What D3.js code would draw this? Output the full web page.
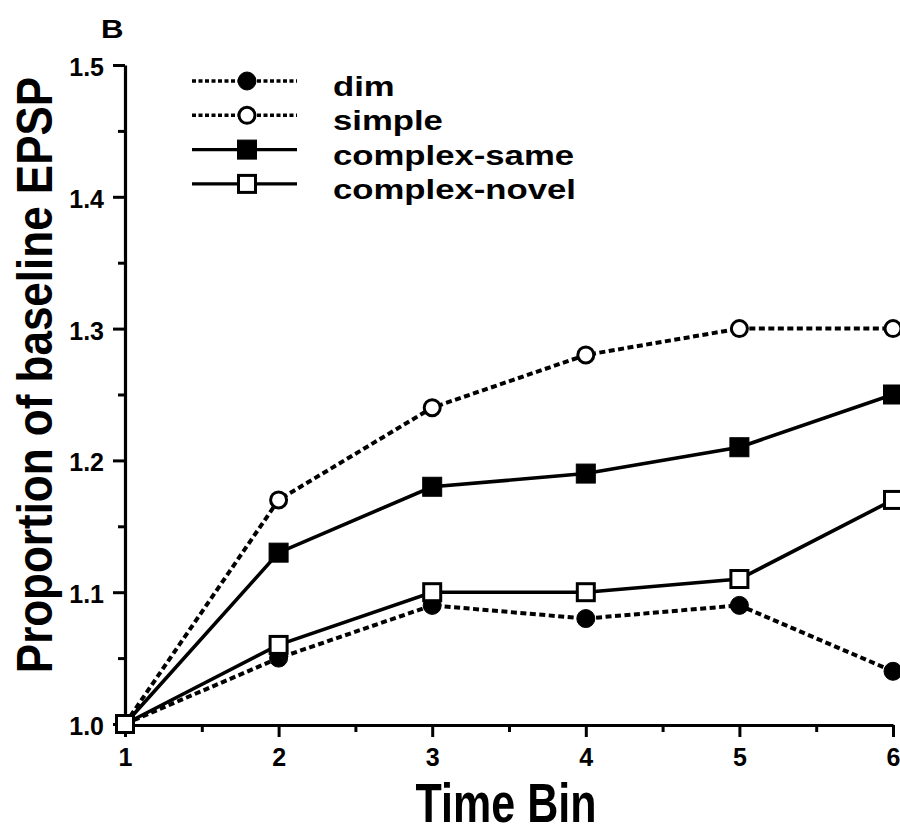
<!DOCTYPE html>
<html>
<head>
<meta charset="utf-8">
<script src="https://cdn.jsdelivr.net/npm/d3@7"></script>
<style>
  html, body { margin: 0; padding: 0; background: #fff; }
  svg { display: block; }
  text { font-family: "Liberation Sans", Arial, Helvetica, sans-serif; fill: #000; }
</style>
</head>
<body>
<svg id="chart" width="900" height="834"></svg>
<script>
// Time bins on the x axis
const bins = [1, 2, 3, 4, 5, 6];

// Proportion of baseline EPSP for each condition
const dimValues = [1.00, 1.05, 1.09, 1.08, 1.09, 1.04];
const simpleValues = [1.00, 1.17, 1.24, 1.28, 1.30, 1.30];
const complexSameValues = [1.00, 1.13, 1.18, 1.19, 1.21, 1.25];
const complexNovelValues = [1.00, 1.06, 1.10, 1.10, 1.11, 1.17];

const seriesNames = ["dim", "simple", "complex-same", "complex-novel"];

// Axis ticks
const yTicks = [1.0, 1.1, 1.2, 1.3, 1.4, 1.5];
const yMinorTicks = [1.05, 1.15, 1.25, 1.35, 1.45];
const xTicks = [1, 2, 3, 4, 5, 6];
const xMinorTicks = [1.5, 2.5, 3.5, 4.5, 5.5];

const series = [
  { name: seriesNames[0], values: dimValues, dashed: true, shape: "circle", filled: true },
  { name: seriesNames[1], values: simpleValues, dashed: true, shape: "circle", filled: false },
  { name: seriesNames[2], values: complexSameValues, dashed: false, shape: "square", filled: true },
  { name: seriesNames[3], values: complexNovelValues, dashed: false, shape: "square", filled: false }
];

const svg = d3.select("#chart");

const x = d3.scaleLinear().domain([1, 6]).range([125, 893]);
const y = d3.scaleLinear().domain([1.0, 1.5]).range([724, 65]);

// Panel letter
svg.append("text")
  .attr("transform", "translate(101,38) scale(1.2,1)")
  .style("font-size", "26px").attr("font-weight", "bold")
  .text("B");

// Y axis with major and minor ticks
const yAxis = svg.append("g").attr("transform", "translate(125,0)")
  .call(d3.axisLeft(y).tickValues(yTicks).tickFormat(d3.format(".1f"))
    .tickSize(12).tickSizeOuter(0).tickPadding(9));
svg.append("g").attr("transform", "translate(125,0)")
  .call(d3.axisLeft(y).tickValues(yMinorTicks).tickFormat("")
    .tickSize(7).tickSizeOuter(0))
  .select(".domain").remove();

// X axis with major and minor ticks
const xAxis = svg.append("g").attr("transform", "translate(0,725)")
  .call(d3.axisBottom(x).tickValues(xTicks).tickFormat(d3.format("d"))
    .tickSize(12).tickSizeOuter(0).tickPadding(11));
svg.append("g").attr("transform", "translate(0,725)")
  .call(d3.axisBottom(x).tickValues(xMinorTicks).tickFormat("")
    .tickSize(7).tickSizeOuter(0))
  .select(".domain").remove();

svg.selectAll(".domain").attr("stroke", "#000").attr("stroke-width", 3.2);
svg.selectAll(".tick line").attr("stroke", "#000").attr("stroke-width", 3);
svg.selectAll(".tick text")
  .style("font-family", "\"Liberation Sans\", Arial, sans-serif")
  .style("font-size", "25px").attr("font-weight", "bold").attr("fill", "#000");
yAxis.selectAll(".tick text").attr("dy", "0.42em");

// Axis titles
svg.append("text")
  .attr("transform", "translate(52,375) rotate(-90) scale(1,1.15)")
  .attr("text-anchor", "middle")
  .style("font-size", "44px").attr("font-weight", "bold")
  .text("Proportion of baseline EPSP");

svg.append("text")
  .attr("transform", "translate(506,822) scale(1,1.3)")
  .attr("text-anchor", "middle")
  .style("font-size", "43px").attr("font-weight", "bold")
  .text("Time Bin");

// Marker drawing helper
function drawMarker(g, shape, filled, cx, cy) {
  if (shape === "circle") {
    g.append("circle")
      .attr("cx", cx).attr("cy", cy).attr("r", filled ? 9 : 8)
      .attr("fill", filled ? "#000" : "#fff")
      .attr("stroke", "#000").attr("stroke-width", filled ? 1 : 3);
  } else {
    const s = filled ? 19 : 17;
    g.append("rect")
      .attr("x", cx - s / 2).attr("y", cy - s / 2)
      .attr("width", s).attr("height", s)
      .attr("fill", filled ? "#000" : "#fff")
      .attr("stroke", "#000").attr("stroke-width", filled ? 1 : 3);
  }
}

const line = d3.line().x((d, i) => x(bins[i])).y(d => y(d));

// Lines
const linesG = svg.append("g");
series.forEach(s => {
  linesG.append("path")
    .datum(s.values)
    .attr("d", line)
    .attr("fill", "none")
    .attr("stroke", "#000")
    .attr("stroke-width", s.dashed ? 4 : 3.6)
    .attr("stroke-dasharray", s.dashed ? "6,3.5" : null);
});

// Markers
const markersG = svg.append("g");
series.forEach(s => {
  s.values.forEach((v, i) => drawMarker(markersG, s.shape, s.filled, x(bins[i]), y(v)));
});

// Legend
const legend = svg.append("g");
series.forEach((s, i) => {
  const ry = 81 + i * 34.3;
  legend.append("line")
    .attr("x1", 192).attr("x2", 297).attr("y1", ry).attr("y2", ry)
    .attr("stroke", "#000").attr("stroke-width", 3.4)
    .attr("stroke-dasharray", s.dashed ? "4,2.5" : null);
  drawMarker(legend, s.shape, s.filled, 247, ry);
  legend.append("text")
    .attr("transform", `translate(333,${ry + 15}) scale(1.24,1)`)
    .style("font-size", "28px").attr("font-weight", "bold")
    .text(s.name);
});
</script>
</body>
</html>
